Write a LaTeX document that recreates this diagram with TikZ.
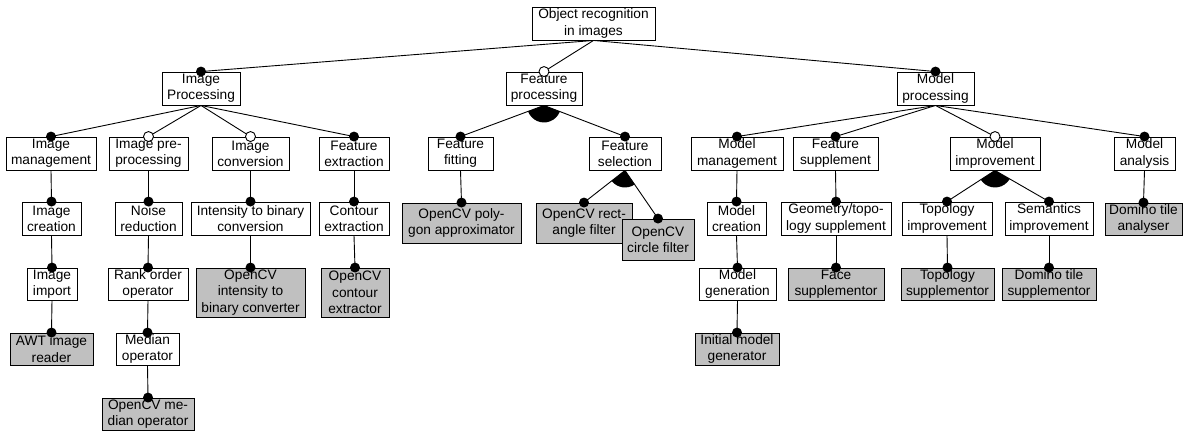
\documentclass[tikz,border=0pt]{standalone}
\usepackage{fontspec}
\setmainfont{Liberation Sans}
\usetikzlibrary{calc}
\definecolor{implgray}{RGB}{192,192,192}
\tikzset{
  dims/.style 2 args={minimum width=#1pt, minimum height=#2pt},
  feat/.style={draw, line width=0.9pt, fill=white, align=center, inner sep=0pt,
    font=\fontsize{13.7}{16.3}\selectfont},
  impl/.style={feat, fill=implgray},
  edge/.style={line width=0.9pt},
}
% mandatory child: filled dot; optional child: hollow dot
\newcommand\mandedge[2]{\draw[edge] (#1.south) -- (#2.north);
  \fill (#2.north) circle[radius=5pt];}
\newcommand\optedge[2]{\draw[edge] (#1.south) -- (#2.north);
  \filldraw[line width=0.9pt, fill=white] (#2.north) circle[radius=5pt];}
% group marker: filled sector between two child edges
\newcommand\groupsector[3]{\fill let \p1=(#1.south), \p2=(#2.north), \p3=(#3.north),
  \n1={atan2(\y2-\y1,\x2-\x1)}, \n2={atan2(\y3-\y1,\x3-\x1)} in
  (\p1) -- ++(\n1:17pt) arc[start angle=\n1, end angle=\n2, radius=17pt] -- cycle;}
\begin{document}
\begin{tikzpicture}[x=1pt, y=-1pt]
\useasboundingbox (0,0) rectangle (1184,432);

% root and first level
\node[feat, dims={123}{33}] (root) at (593.5,23.5) {Object recognition\\in images};
\node[feat, dims={78}{33}] (ip) at (201,88.5) {Image\\Processing};
\node[feat, dims={76}{33}] (fp) at (544,88.5) {Feature\\processing};
\node[feat, dims={77}{33}] (mp) at (935.5,88.5) {Model\\processing};

% second level
\node[feat, dims={90}{33}] (im) at (51,153.5) {Image\\management};
\node[feat, dims={79}{33}] (ipp) at (148.5,153.5) {Image pre-\\processing};
\node[feat, dims={77}{33}] (ic) at (250.5,153.5) {Image\\conversion};
\node[feat, dims={70}{33}] (fe) at (354,153.5) {Feature\\extraction};
\node[feat, dims={65}{33}] (ff) at (460.5,153.5) {Feature\\fitting};
\node[feat, dims={72}{33}] (fs) at (625,153.5) {Feature\\selection};
\node[feat, dims={92}{33}] (mm) at (737,153.5) {Model\\management};
\node[feat, dims={85}{33}] (fsup) at (835.5,153.5) {Feature\\supplement};
\node[feat, dims={90}{33}] (mi) at (995,153.5) {Model\\improvement};
\node[feat, dims={61}{33}] (ma) at (1144.5,153.5) {Model\\analysis};

% third level
\node[feat, dims={59}{33}] (icr) at (51.5,218.5) {Image\\creation};
\node[feat, dims={67}{33}] (nr) at (148.5,218.5) {Noise\\reduction};
\node[feat, dims={119}{33}] (itb) at (250.5,218.5) {Intensity to binary\\conversion};
\node[feat, dims={70}{33}] (ce) at (354,218.5) {Contour\\extraction};
\node[impl, dims={119}{40}] (opa) at (461.5,223) {OpenCV poly-\\gon approximator};
\node[impl, dims={96}{40}] (orf) at (584,223) {OpenCV rect-\\angle filter};
\node[impl, dims={72}{41}] (ocf) at (658,239.5) {OpenCV\\circle filter};
\node[feat, dims={59}{33}] (mc) at (736.5,218.5) {Model\\creation};
\node[feat, dims={110}{33}] (gts) at (836,218.5) {Geometry/topo-\\logy supplement};
\node[feat, dims={90}{33}] (ti) at (947,218.5) {Topology\\improvement};
\node[feat, dims={88}{33}] (si) at (1049,218.5) {Semantics\\improvement};
\node[impl, dims={77}{32}] (dta) at (1143.5,219) {Domino tile\\analyser};

% fourth level
\node[feat, dims={50}{32}] (iim) at (52,284) {Image\\import};
\node[feat, dims={80}{32}] (roo) at (148,284) {Rank order\\operator};
\node[impl, dims={109}{49}] (oitb) at (250.5,292.5) {OpenCV\\intensity to\\binary converter};
\node[impl, dims={68}{49}] (oce) at (355,292.5) {OpenCV\\contour\\extractor};
\node[feat, dims={77}{32}] (mg) at (737.5,284) {Model\\generation};
\node[impl, dims={96}{32}] (fsupl) at (836,284) {Face\\supplementor};
\node[impl, dims={93}{32}] (tsup) at (947.5,284) {Topology\\supplementor};
\node[impl, dims={94}{32}] (dts) at (1049,284) {Domino tile\\supplementor};

% fifth and sixth level
\node[impl, dims={83}{32}] (awt) at (51.5,349) {AWT image\\reader};
\node[feat, dims={63}{32}] (mo) at (147.5,349) {Median\\operator};
\node[impl, dims={84}{32}] (img) at (737,349) {Initial model\\generator};
\node[impl, dims={92}{32}] (omo) at (148,414) {OpenCV me-\\dian operator};

% connectors
\mandedge{root}{ip}
\optedge{root}{fp}
\mandedge{root}{mp}

\mandedge{ip}{im}
\optedge{ip}{ipp}
\optedge{ip}{ic}
\mandedge{ip}{fe}

\groupsector{fp}{ff}{fs}
\mandedge{fp}{ff}
\mandedge{fp}{fs}

\mandedge{mp}{mm}
\mandedge{mp}{fsup}
\optedge{mp}{mi}
\mandedge{mp}{ma}

\mandedge{im}{icr}
\mandedge{icr}{iim}
\mandedge{iim}{awt}

\mandedge{ipp}{nr}
\mandedge{nr}{roo}
\mandedge{roo}{mo}
\mandedge{mo}{omo}

\mandedge{ic}{itb}
\mandedge{itb}{oitb}

\mandedge{fe}{ce}
\mandedge{ce}{oce}

\mandedge{ff}{opa}
\groupsector{fs}{orf}{ocf}
\mandedge{fs}{orf}
\mandedge{fs}{ocf}

\mandedge{mm}{mc}
\mandedge{mc}{mg}
\mandedge{mg}{img}

\mandedge{fsup}{gts}
\mandedge{gts}{fsupl}

\groupsector{mi}{ti}{si}
\mandedge{mi}{ti}
\mandedge{mi}{si}
\mandedge{ti}{tsup}
\mandedge{si}{dts}

\mandedge{ma}{dta}
\end{tikzpicture}
\end{document}
